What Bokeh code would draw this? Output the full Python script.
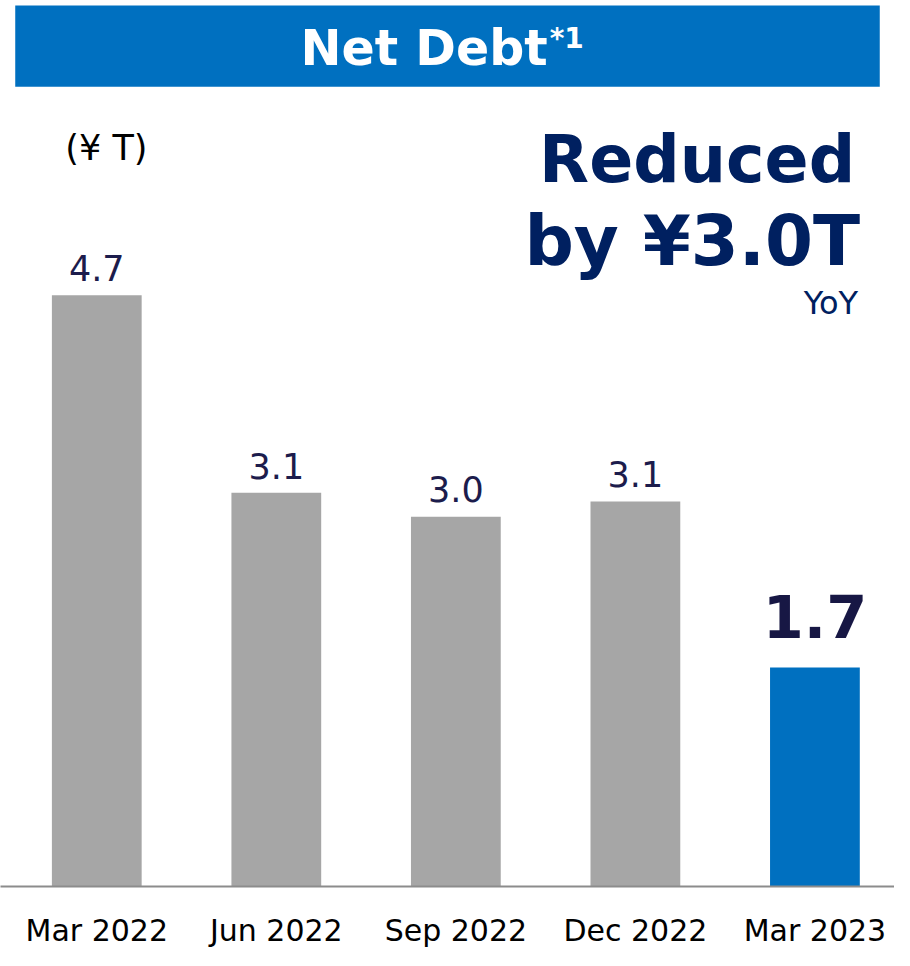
from bokeh.plotting import figure
from bokeh.models import ColumnDataSource, Range1d, FixedTicker, Label, BoxAnnotation
from bokeh.core.properties import value
from bokeh.embed import file_html
from bokeh.resources import INLINE

# ---- data ----
categories = ["Mar 2022", "Jun 2022", "Sep 2022", "Dec 2022", "Mar 2023"]
net_debt = [4.70, 3.13, 2.94, 3.06, 1.74]          # ¥ trillion (bar heights)
value_labels = ["4.7", "3.1", "3.0", "3.1", "1.7"]
bar_colors = ["#A6A6A6", "#A6A6A6", "#A6A6A6", "#A6A6A6", "#0070C0"]

# ---- layout constants ----
W, H = 894, 950
SX, SY = W / 910.0, H / 966.0
BOTTOM = 62
FRAME_H = H - BOTTOM
PX_PER_CAT = 182.75 * SX
PX_PER_UNIT = 128.2 * SY
FIRST_CENTER = 98 * SX
BL = 0.38  # rendered baseline shift (em)

x_start = -FIRST_CENTER / PX_PER_CAT
x_end = x_start + W / PX_PER_CAT
y_end = FRAME_H / PX_PER_UNIT


def X(px):
    return x_start + px * SX / PX_PER_CAT


def Y(py):
    return (FRAME_H - py * SY) / PX_PER_UNIT


def YB(py, size):
    # baseline position for text of given size
    return (FRAME_H - py * SY + BL * size) / PX_PER_UNIT


FONT = "DejaVu Sans"

p = figure(width=W, height=H, output_backend="svg", toolbar_location=None,
           x_range=Range1d(x_start, x_end), y_range=Range1d(0, y_end),
           min_border_left=0, min_border_right=0, min_border_top=0,
           min_border_bottom=BOTTOM)
p.outline_line_color = None
p.xgrid.grid_line_color = None
p.ygrid.grid_line_color = None
p.yaxis.visible = False
p.background_fill_color = "white"
p.border_fill_color = "white"

xs = list(range(len(categories)))
src = ColumnDataSource(dict(x=xs, top=net_debt, color=bar_colors))
p.vbar(x="x", top="top", width=0.5, fill_color="color", line_color=None, source=src)

V_SIZE, V_GAP = 35, 14
B_SIZE, B_GAP = 59, 29
grey_src = ColumnDataSource(dict(
    x=xs[:4],
    y=[v + (V_GAP + BL * V_SIZE) / PX_PER_UNIT for v in net_debt[:4]],
    label=value_labels[:4]))
last_src = ColumnDataSource(dict(
    x=xs[4:],
    y=[v + (B_GAP + BL * B_SIZE) / PX_PER_UNIT for v in net_debt[4:]],
    label=value_labels[4:]))
p.text(x="x", y="y", text="label", source=grey_src,
       text_align="center", text_baseline="alphabetic",
       text_font=value(FONT), text_font_size=f"{V_SIZE}px", text_color="#1C1C4C")
p.text(x="x", y="y", text="label", source=last_src,
       text_align="center", text_baseline="alphabetic",
       text_font=value(FONT), text_font_size=f"{B_SIZE}px", text_font_style="bold",
       text_color="#171744")

ax = p.xaxis[0]
ax.ticker = FixedTicker(ticks=xs)
ax.major_label_overrides = {i: c for i, c in enumerate(categories)}
ax.major_tick_line_color = None
ax.minor_tick_line_color = None
ax.major_tick_out = 0
ax.major_tick_in = 0
ax.axis_line_color = "#8C8C8C"
ax.axis_line_width = 2
ax.major_label_standoff = 26
ax.major_label_text_font = FONT
ax.major_label_text_font_size = "30px"
ax.major_label_text_color = "black"


def add_label(px, py, text, size, align="left", bold=False, color="black"):
    p.add_layout(Label(x=X(px), y=YB(py, size), text=text, text_align=align,
                       text_baseline="alphabetic", text_font=FONT,
                       text_font_size=f"{size}px",
                       text_font_style="bold" if bold else "normal",
                       text_color=color))


# title banner
p.add_layout(BoxAnnotation(left=X(15), right=X(895), bottom=Y(88), top=Y(5),
                           fill_color="#0070C0", fill_alpha=1.0, line_color=None))
add_label(557, 68, "Net Debt", 49, align="right", bold=True, color="white")
add_label(559, 50, "*1", 28, align="left", bold=True, color="white")

# unit label
add_label(66, 164, "(¥ T)", 35)

# callout
NAVY = "#002060"
add_label(870, 187, "Reduced", 65, align="right", bold=True, color=NAVY)
add_label(875, 272, "by ¥3.0T", 69, align="right", bold=True, color=NAVY)
add_label(873, 321, "YoY", 32, align="right", color=NAVY)

open("out.html", "w").write(file_html(p, INLINE))
